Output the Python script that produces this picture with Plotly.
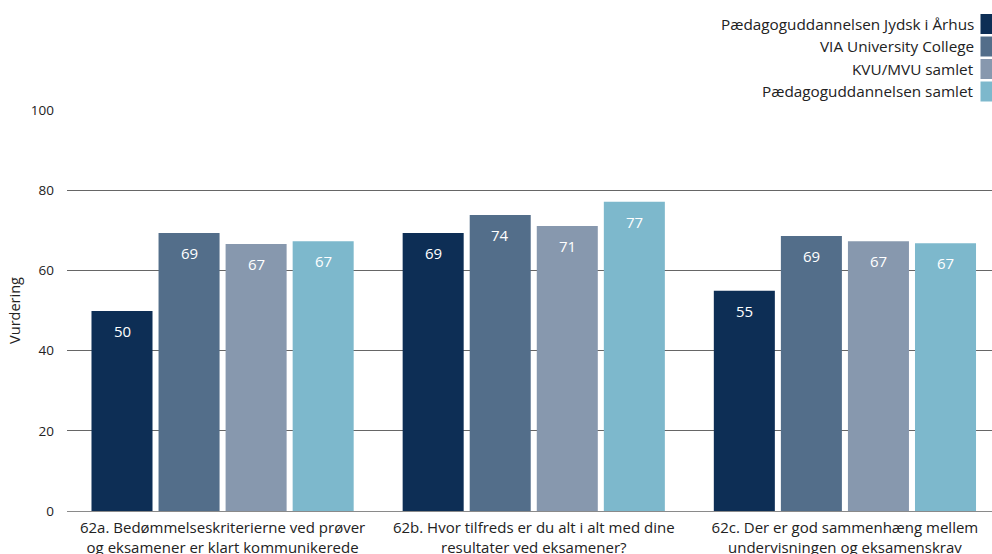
import plotly.graph_objects as go

categories = [
    "62a. Bedømmelseskriterierne ved prøver<br>og eksamener er klart kommunikerede",
    "62b. Hvor tilfreds er du alt i alt med dine<br>resultater ved eksamener?",
    "62c. Der er god sammenhæng mellem<br>undervisningen og eksamenskrav",
]
series_names = [
    "Pædagoguddannelsen Jydsk i Århus",
    "VIA University College",
    "KVU/MVU samlet",
    "Pædagoguddannelsen samlet",
]
series_values = [
    [49.9, 69.3, 54.9],
    [69.3, 73.8, 68.6],
    [66.6, 71.1, 67.3],
    [67.3, 77.1, 66.8],
]
colors = ["#0d2e55", "#536e8a", "#8798ae", "#7db8cc"]
y_ticks = [0, 20, 40, 60, 80, 100]

FONT = "Open Sans"
W, H = 992, 554
L, R, T, B = 67, 0, 110, 43
pw = W - L - R
ph = H - T - B

fig = go.Figure()
for name, vals, col in zip(series_names, series_values, colors):
    fig.add_trace(go.Bar(
        x=categories, y=vals, name=name, marker=dict(color=col, line=dict(width=0)),
        showlegend=False, hoverinfo="x+y+name",
    ))

annotations = []
shifts = [-100.5, -33.5, 33.5, 100.5]
for si, vals in enumerate(series_values):
    for ci, v in enumerate(vals):
        annotations.append(dict(
            x=categories[ci], y=v, xref="x", yref="y", text=f"{round(v):d}",
            showarrow=False, xshift=shifts[si], yshift=-20, yanchor="middle",
            font=dict(color="white", size=15, family=FONT),
        ))

shapes = []
row_tops = [14, 36.5, 59, 81.5]
for i, name in enumerate(series_names):
    top = row_tops[i]
    yc = top + 9.5
    annotations.append(dict(
        x=(976 - L) / pw, y=(H - B - yc) / ph, xref="paper", yref="paper",
        text=name, showarrow=False, xanchor="right", yanchor="middle",
        font=dict(color="#222222", size=15.3, family=FONT),
    ))
    shapes.append(dict(
        type="rect", xref="paper", yref="paper",
        x0=(980.5 - L) / pw, x1=(1002 - L) / pw,
        y0=(H - B - top) / ph, y1=(H - B - top - 20) / ph,
        fillcolor=colors[i], line=dict(width=0), layer="above",
    ))

fig.update_layout(
    width=W, height=H,
    margin=dict(l=L, r=R, t=T, b=B, pad=0),
    barmode="group", bargap=0.138, bargroupgap=0.09,
    plot_bgcolor="white", paper_bgcolor="white",
    font=dict(family=FONT, size=14, color="#222222"),
    annotations=annotations, shapes=shapes,
    showlegend=False,
    xaxis=dict(
        range=[-0.5, 2.5 - (1000.5 - 992) / 311], automargin=False,
        showgrid=False, showline=True, linecolor="#8a8a8a", linewidth=1,
        ticks="", ticklabelstandoff=3,
        tickfont=dict(size=15, family=FONT, color="#222222"),
    ),
    yaxis=dict(
        range=[0, 100], tickvals=y_ticks, automargin=False,
        showgrid=True, gridcolor="#666666", gridwidth=1, zeroline=False,
        ticks="", ticklabelstandoff=12,
        tickfont=dict(size=13.5, family=FONT, color="#222222"),
        title=dict(text="Vurdering", font=dict(size=14.5, family=FONT, color="#222222"), standoff=6),
    ),
)

fig.write_html(
    "out.html",
    config={"displayModeBar": False},
    post_script="document.body.style.margin='0';document.body.style.overflow='hidden';",
)
